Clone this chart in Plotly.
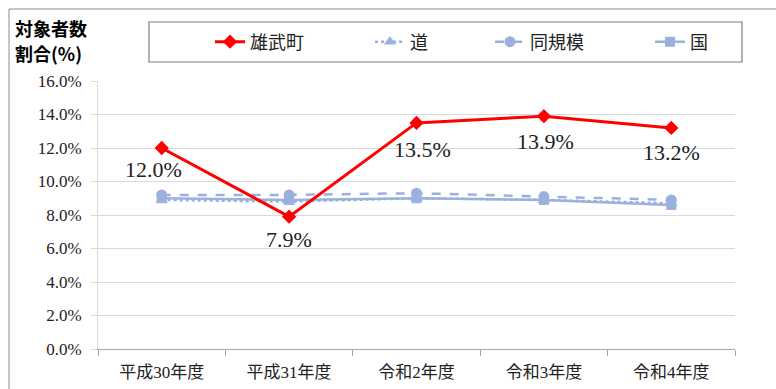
import plotly.graph_objects as go

# 年度ごとの対象者数割合(%)
categories = ["平成30年度", "平成31年度", "令和2年度", "令和3年度", "令和4年度"]
oumu = [12.0, 7.9, 13.5, 13.9, 13.2]      # 雄武町
dou = [8.9, 8.8, 9.0, 8.9, 8.7]           # 道
doukibo = [9.2, 9.2, 9.3, 9.1, 8.9]       # 同規模
kuni = [9.0, 8.9, 9.0, 8.9, 8.6]          # 国
y_ticks = [0, 2, 4, 6, 8, 10, 12, 14, 16]

W, H = 776, 389
L, R, T, B = 98, 735, 81, 349  # plot area in pixels


def px_x(px):
    return (px - L) / (R - L)


def px_y(py):
    return (B - py) / (B - T)


SERIF = "Liberation Serif, Noto Sans CJK JP, serif"
CJK = "Noto Sans CJK JP, sans-serif"
BLUE = "#9bb1dd"

fig = go.Figure()

fig.add_trace(go.Scatter(
    x=categories, y=dou, name="道", mode="lines+markers",
    line=dict(color=BLUE, width=2.5, dash="dot"),
    marker=dict(symbol="triangle-up", size=11, color=BLUE),
    legend="legend2",
))
fig.add_trace(go.Scatter(
    x=categories, y=doukibo, name="同規模", mode="lines+markers",
    line=dict(color=BLUE, width=2.5, dash="dash"),
    marker=dict(symbol="circle", size=11, color=BLUE),
    legend="legend3",
))
fig.add_trace(go.Scatter(
    x=categories, y=kuni, name="国", mode="lines+markers",
    line=dict(color=BLUE, width=2.5),
    marker=dict(symbol="square", size=10, color=BLUE),
    legend="legend4",
))
fig.add_trace(go.Scatter(
    x=categories, y=oumu, name="雄武町", mode="lines+markers",
    line=dict(color="#ff0000", width=3),
    marker=dict(symbol="diamond", size=11, color="#ff0000"),
    legend="legend",
))

# value labels under the 雄武町 markers
label_shift = [(-8, -21), (0, -23), (6, -27), (2, -25), (0, -25)]
annotations = [
    dict(x=c, y=v, xref="x", yref="y", text=f"{v:.1f}%", showarrow=False,
         xanchor="center", yanchor="middle", xshift=dx, yshift=dy,
         font=dict(family=SERIF, size=22, color="#222222"))
    for c, v, (dx, dy) in zip(categories, oumu, label_shift)
]

# two-line axis title in the top-left corner
annotations += [
    dict(text="<b>対象者数</b>", xref="paper", yref="paper",
         x=px_x(13), y=px_y(28), xanchor="left", yanchor="middle",
         showarrow=False, font=dict(family=CJK, size=18, color="#000000")),
    dict(text="<b>割合(%)</b>", xref="paper", yref="paper",
         x=px_x(13), y=px_y(53), xanchor="left", yanchor="middle",
         showarrow=False, font=dict(family=CJK, size=18, color="#000000")),
]

legend_common = dict(
    orientation="h", yanchor="middle", xanchor="left",
    y=px_y(42), bgcolor="rgba(0,0,0,0)", borderwidth=0,
    font=dict(family=CJK, size=18, color="#222222"),
)
layout_legends = {}
for key, px in [("legend", 210), ("legend2", 370), ("legend3", 490), ("legend4", 650)]:
    layout_legends[key] = dict(legend_common, x=px_x(px))

fig.update_layout(
    width=W, height=H,
    margin=dict(l=L, r=W - R, t=T, b=H - B, autoexpand=False),
    paper_bgcolor="white", plot_bgcolor="white",
    showlegend=True,
    **layout_legends,
    xaxis=dict(
        type="category",
        range=[-0.5, len(categories) - 0.5],
        automargin=False,
        showgrid=False,
        showline=True, linecolor="#a6a6a6", linewidth=1,
        ticks="outside", tickson="boundaries", ticklen=6, tickcolor="#a6a6a6",
        ticklabelstandoff=8,
        tickfont=dict(family=SERIF, size=17, color="#222222"),
        fixedrange=True,
    ),
    yaxis=dict(
        range=[0, 16],
        automargin=False,
        tickvals=y_ticks,
        ticktext=[f"{v:.1f}%" for v in y_ticks],
        showgrid=True, gridcolor="#d9d9d9", gridwidth=1,
        showline=True, linecolor="#d9d9d9", linewidth=1,
        ticks="outside", ticklen=6, tickcolor="#d9d9d9",
        ticklabelstandoff=6,
        tickfont=dict(family=SERIF, size=17, color="#222222"),
        zeroline=False,
        fixedrange=True,
    ),
    shapes=[
        # outer chart border
        dict(type="rect", xref="paper", yref="paper",
             x0=px_x(9), x1=px_x(W + 5), y0=px_y(H + 5), y1=px_y(9),
             line=dict(color="#8c8c8c", width=1), fillcolor="rgba(0,0,0,0)", layer="below"),
        # legend frame
        dict(type="rect", xref="paper", yref="paper",
             x0=px_x(149), x1=px_x(742), y0=px_y(62), y1=px_y(22),
             line=dict(color="#7f7f7f", width=1.2), fillcolor="rgba(0,0,0,0)", layer="below"),
    ],
    annotations=annotations,
)

fig.write_html("out.html")
